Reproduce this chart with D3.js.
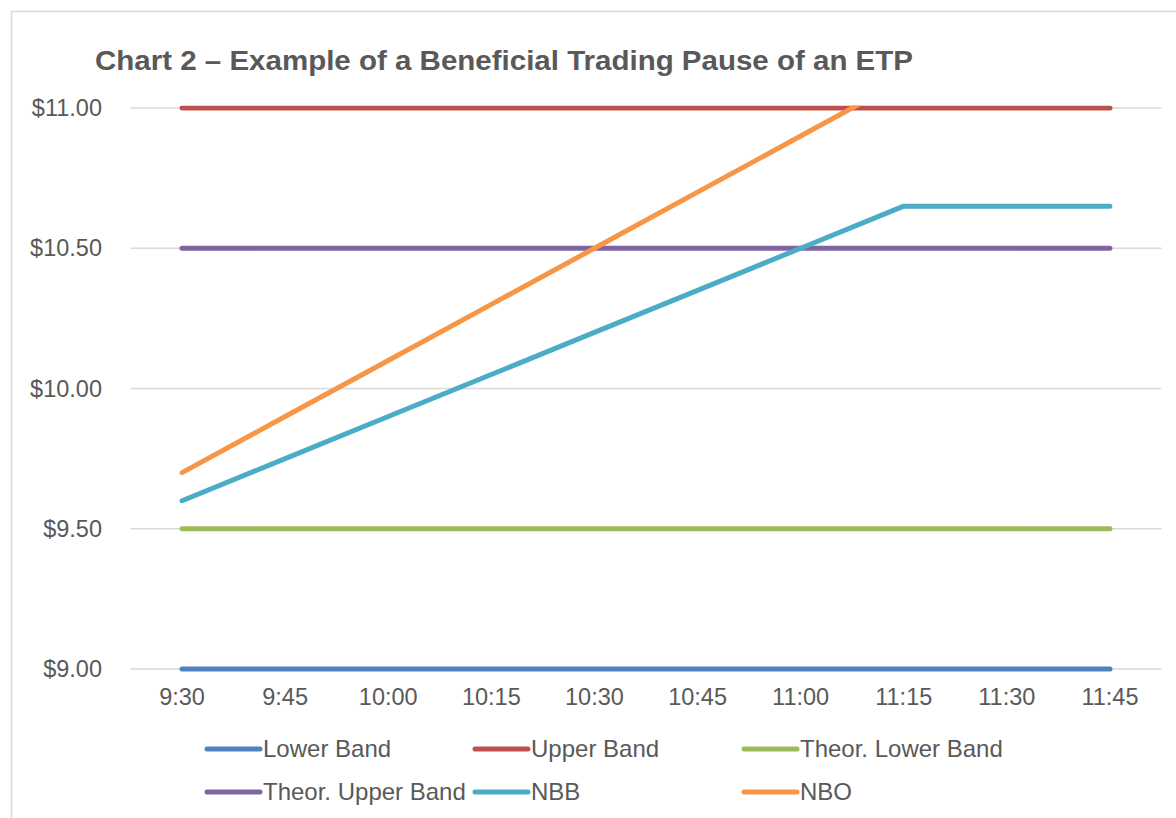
<!DOCTYPE html>
<html>
<head>
<meta charset="utf-8">
<script src="https://cdn.jsdelivr.net/npm/d3@7"></script>
<style>
  body { margin: 0; background: #fff; }
  text { font-family: "Liberation Sans", Arial, sans-serif; fill: #595959; }
</style>
</head>
<body>
<svg></svg>
<script>
let width = 1176;
let height = 818;
let svg = d3.select("svg").attr("width", width).attr("height", height);

// data
const times = ["9:30", "9:45", "10:00", "10:15", "10:30", "10:45", "11:00", "11:15", "11:30", "11:45"];
const lowerBand = [9, 9, 9, 9, 9, 9, 9, 9, 9, 9];
const upperBand = [11, 11, 11, 11, 11, 11, 11, 11, 11, 11];
const theorLower = [9.5, 9.5, 9.5, 9.5, 9.5, 9.5, 9.5, 9.5, 9.5, 9.5];
const theorUpper = [10.5, 10.5, 10.5, 10.5, 10.5, 10.5, 10.5, 10.5, 10.5, 10.5];
const nbb = [9.6, 9.75, 9.9, 10.05, 10.2, 10.35, 10.5, 10.65, 10.65, 10.65];
const nbo = [9.7, 9.9, 10.1, 10.3, 10.5, 10.7, 10.9, 11.1, null, null];
const yTicks = [9, 9.5, 10, 10.5, 11];

const series = [
  { name: "Lower Band", values: lowerBand, color: "#4F81BD" },
  { name: "Upper Band", values: upperBand, color: "#C0504D" },
  { name: "Theor. Lower Band", values: theorLower, color: "#9BBB59" },
  { name: "Theor. Upper Band", values: theorUpper, color: "#8064A2" },
  { name: "NBB", values: nbb, color: "#4BACC6" },
  { name: "NBO", values: nbo, color: "#F79646" }
];

// outer chart border
svg.append("rect")
  .attr("x", 11.5).attr("y", 11.5)
  .attr("width", 1180).attr("height", 830)
  .attr("fill", "none").attr("stroke", "#d9d9d9").attr("stroke-width", 1.5);

// title
svg.append("text")
  .attr("x", 95).attr("y", 70)
  .attr("font-size", 28.5).attr("font-weight", "bold")
  .attr("textLength", 818).attr("lengthAdjust", "spacingAndGlyphs")
  .text("Chart 2 \u2013 Example of a Beneficial Trading Pause of an ETP");

let x = d3.scaleBand().domain(times).range([130.5, 1161.5]);
let y = d3.scaleLinear().domain([9, 11]).range([669, 108]);
const cx = (d) => x(d) + x.bandwidth() / 2;

// gridlines
svg.append("g")
  .selectAll("line")
  .data(yTicks)
  .enter()
  .append("line")
  .attr("x1", 130.5).attr("x2", 1161.5)
  .attr("y1", (d) => y(d)).attr("y2", (d) => y(d))
  .attr("stroke", "#d9d9d9").attr("stroke-width", 1.5);

// y labels
svg.append("g")
  .selectAll("text")
  .data(yTicks)
  .enter()
  .append("text")
  .attr("x", 102).attr("y", (d) => y(d))
  .attr("dy", "0.35em")
  .attr("text-anchor", "end")
  .attr("font-size", 23.5)
  .text((d) => "$" + d.toFixed(2));

// x labels
svg.append("g")
  .selectAll("text")
  .data(times)
  .enter()
  .append("text")
  .attr("x", (d) => cx(d)).attr("y", 705)
  .attr("text-anchor", "middle")
  .attr("font-size", 23.5)
  .text((d) => d);

svg.append("clipPath").attr("id", "plot")
  .append("rect")
  .attr("x", 0).attr("y", 105.5)
  .attr("width", width).attr("height", 570);

let line = d3.line()
  .defined((d) => d != null)
  .x((d, i) => cx(times[i]))
  .y((d) => y(d));

svg.append("g")
  .attr("clip-path", "url(#plot)")
  .selectAll("path")
  .data(series)
  .enter()
  .append("path")
  .attr("d", (d) => line(d.values))
  .attr("fill", "none")
  .attr("stroke", (d) => d.color)
  .attr("stroke-width", 5)
  .attr("stroke-linecap", "round")
  .attr("stroke-linejoin", "round");

// legend
const legendX = [205, 473, 742];
const legendY = [749, 792];
let legend = svg.append("g")
  .selectAll("g")
  .data(series)
  .enter()
  .append("g")
  .attr("transform", (d, i) => `translate(${legendX[i % 3]},${legendY[Math.floor(i / 3)]})`);

legend.append("line")
  .attr("x1", 2).attr("x2", 55)
  .attr("stroke", (d) => d.color)
  .attr("stroke-width", 5)
  .attr("stroke-linecap", "round");

legend.append("text")
  .attr("x", 58).attr("dy", "0.35em")
  .attr("font-size", 24)
  .text((d) => d.name);
</script>
</body>
</html>
